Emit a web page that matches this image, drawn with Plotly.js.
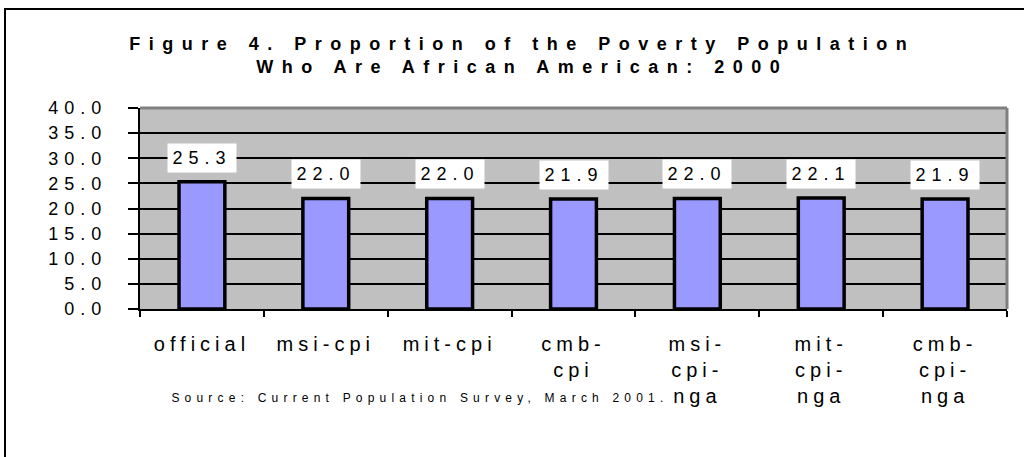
<!DOCTYPE html>
<html>
<head>
<meta charset="utf-8">
<script src="https://cdn.plot.ly/plotly-3.0.1.min.js"></script>
<style>
  html, body { margin: 0; padding: 0; background: #ffffff; }
  #wrap { position: relative; width: 1024px; height: 457px; overflow: hidden; }
  #chart { width: 1024px; height: 457px; }
  #frame { position: absolute; left: 4px; top: 8px; width: 1040px; height: 480px;
           border: 2px solid #000; pointer-events: none; }
  #chart .gtitle { letter-spacing: 8.5px; }
  #chart .xtick text { letter-spacing: 5px; }
  #chart .ytick text { letter-spacing: 6px; }
  #chart .annotation-text { letter-spacing: 6px; }
  #chart .src-note .annotation-text { letter-spacing: 5.2px; }
</style>
</head>
<body>
<div id="wrap">
  <div id="chart"></div>
  <div id="frame"></div>
</div>
<script>
// ---- data ----
var categories = ["official", "msi-cpi", "mit-cpi", "cmb-<br>cpi", "msi-<br>cpi-<br>nga", "mit-<br>cpi-<br>nga", "cmb-<br>cpi-<br>nga"];
var categoryKeys = ["official", "msi-cpi", "mit-cpi", "cmb-cpi", "msi-cpi-nga", "mit-cpi-nga", "cmb-cpi-nga"];
var values = [25.3, 22.0, 22.0, 21.9, 22.0, 22.1, 21.9];
var yTickValues = [0, 5, 10, 15, 20, 25, 30, 35, 40];
var titleText = "Figure 4. Proportion of the Poverty Population<br>Who Are African American: 2000";
var sourceText = "Source: Current Population Survey, March 2001.";

var FONT = "Liberation Sans, Arial, sans-serif";

var trace = {
  type: "bar",
  x: categoryKeys,
  y: values,
  width: 0.37,
  marker: { color: "#9999ff", line: { color: "#000000", width: 3.5 } },
  hoverinfo: "x+y",
  showlegend: false
};

var annotations = values.map(function (v, i) {
  return {
    x: categoryKeys[i], y: v, xref: "x", yref: "y",
    text: v.toFixed(1),
    showarrow: false,
    yanchor: "bottom",
    yshift: 9,
    bgcolor: "#ffffff",
    borderpad: 4,
    width: 60, height: 20,
    font: { family: FONT, size: 18, color: "#000000" }
  };
});

annotations.push({
  xref: "paper", yref: "paper",
  x: (420 - 140) / 867, y: (309 - 398) / 201,
  xanchor: "center", yanchor: "middle",
  text: sourceText, showarrow: false,
  font: { family: FONT, size: 12, color: "#000000" }
});

var layout = {
  width: 1024, height: 457,
  margin: { l: 140, r: 17, t: 108, b: 148 },
  paper_bgcolor: "#ffffff",
  plot_bgcolor: "#c0c0c0",
  title: {
    text: titleText,
    font: { family: FONT, size: 18, color: "#000000", weight: "bold" },
    x: 0.51, xanchor: "center",
    y: 1 - 50 / 457, yanchor: "top"
  },
  xaxis: {
    type: "category",
    tickmode: "array",
    tickvals: categoryKeys,
    ticktext: categories,
    tickson: "boundaries",
    ticks: "outside", ticklen: 6, tickwidth: 2, tickcolor: "#000",
    showline: true, linecolor: "#000", linewidth: 2,
    showgrid: false,
    tickfont: { family: FONT, size: 20, color: "#000" },
    ticklabelstandoff: 16,
    tickangle: 0,
    fixedrange: true
  },
  yaxis: {
    range: [0, 40],
    tickmode: "array",
    tickvals: yTickValues,
    ticktext: yTickValues.map(function (v) { return v.toFixed(1); }),
    ticks: "outside", ticklen: 10, tickwidth: 2, tickcolor: "#000",
    showline: true, linecolor: "#000", linewidth: 2,
    showgrid: true, gridcolor: "#000", gridwidth: 1.5,
    zeroline: false,
    tickfont: { family: FONT, size: 18, color: "#000" },
    ticklabelstandoff: 17,
    fixedrange: true
  },
  shapes: [
    { type: "line", xref: "paper", yref: "paper", x0: 0, x1: 1, y0: 1, y1: 1,
      line: { color: "#808080", width: 3 } },
    { type: "line", xref: "paper", yref: "paper", x0: 1, x1: 1, y0: 0, y1: 1,
      line: { color: "#808080", width: 3 } }
  ],
  annotations: annotations,
  bargap: 0.6
};

Plotly.newPlot("chart", [trace], layout, { displayModeBar: false }).then(function () {
  var groups = document.querySelectorAll("#chart .annotation");
  if (groups.length) groups[groups.length - 1].classList.add("src-note");
});
</script>
</body>
</html>
